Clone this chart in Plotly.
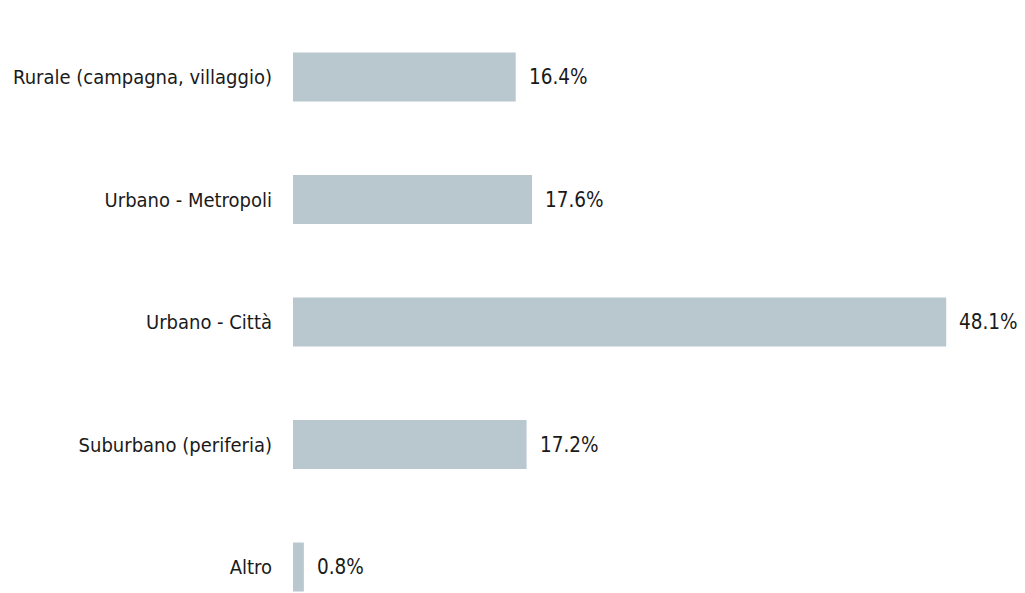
import plotly.graph_objects as go

categories = ["Rurale (campagna, villaggio)", "Urbano - Metropoli", "Urbano - Città",
              "Suburbano (periferia)", "Altro"]
values = [16.4, 17.6, 48.1, 17.2, 0.8]
labels = [f"{v:.1f}%" for v in values]

BAR_COLOR = "#B9C8CF"
FONT = "DejaVu Sans Condensed, DejaVu Sans"
FS = 20

fig = go.Figure()
fig.add_trace(go.Bar(
    x=values, y=categories, orientation="h",
    marker=dict(color=BAR_COLOR, line=dict(width=0)),
    width=0.4, hoverinfo="skip",
))
for c, v, t in zip(categories, values, labels):
    fig.add_annotation(x=v, y=c, text=t, showarrow=False, xanchor="left",
                       xshift=11, font=dict(family=FONT, size=20.5, color="#1a1a1a"))

fig.update_layout(
    width=1025, height=593,
    margin=dict(l=285, r=28, t=2, b=8, autoexpand=False),
    paper_bgcolor="white", plot_bgcolor="white",
    showlegend=False,
    font=dict(family=FONT, size=FS, color="#1a1a1a"),
    xaxis=dict(range=[0, 712 / 13.58], visible=False, fixedrange=True),
    yaxis=dict(categoryorder="array", categoryarray=categories,
               range=[4.212, -0.547], showgrid=False, zeroline=False,
               showline=False, ticks="outside", ticklen=16, tickcolor="rgba(0,0,0,0)",
               automargin=False,
               tickfont=dict(family=FONT, size=FS, color="#1a1a1a")),
)
fig.write_html("out.html")
